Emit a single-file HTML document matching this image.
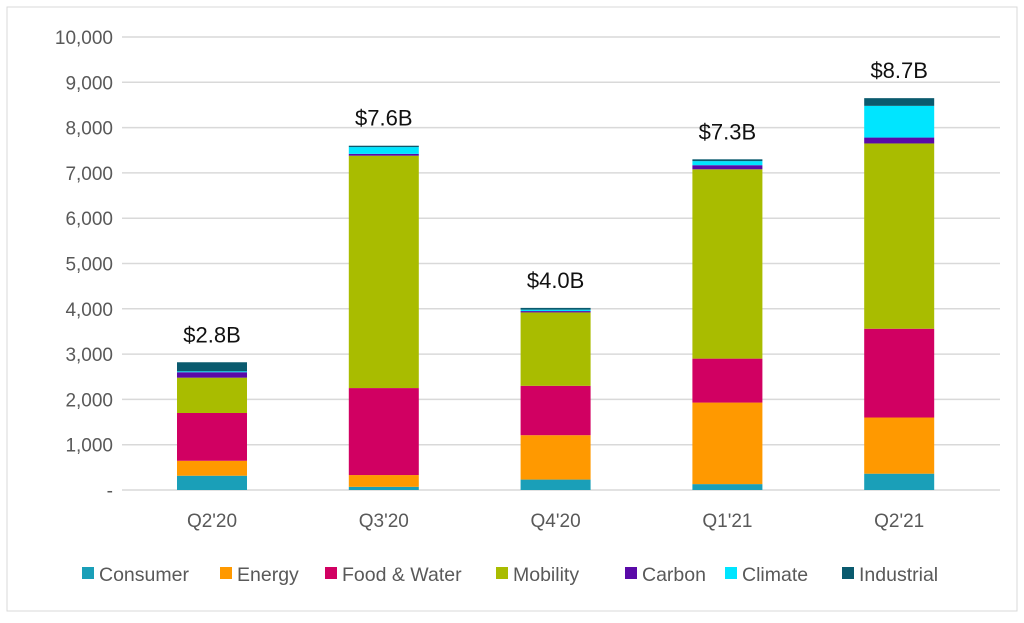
<!DOCTYPE html>
<html><head><meta charset="utf-8"><style>
body{margin:0;background:#fff;font-family:"Liberation Sans",sans-serif}
</style></head><body>
<svg width="1024" height="618">
<rect x="7" y="7" width="1010" height="604" fill="#fff" stroke="#d9d9d9"/>
<g id="grid"></g><g id="bars"></g><g id="labels"></g><g id="legend"></g>
</svg>
<script>
const categories=["Q2'20","Q3'20","Q4'20","Q1'21","Q2'21"];
const totals=["$2.8B","$7.6B","$4.0B","$7.3B","$8.7B"];
const seriesNames=["Consumer","Energy","Food & Water","Mobility","Carbon","Climate","Industrial"];
const consumer=[315,70,230,130,360];
const energy=[330,260,980,1800,1240];
const food=[1055,1920,1090,970,1960];
const mobility=[780,5130,1620,4180,4090];
const carbon=[120,40,30,90,130];
const climate=[20,150,30,90,700];
const industrial=[200,30,40,40,170];
const yTicks=[0,1000,2000,3000,4000,5000,6000,7000,8000,9000,10000];
const colors=["#1a9fb8","#ff9900","#d10062","#a9bc00","#5a0aa8","#00e5ff","#0a5a6e"];
const series=[consumer,energy,food,mobility,carbon,climate,industrial];
const ns="http://www.w3.org/2000/svg";
const y=v=>490-v*0.0453;
const x=i=>212+i*171.8;
function mk(t,a,p){const e=document.createElementNS(ns,t);for(const k in a)e.setAttribute(k,a[k]);p.appendChild(e);return e;}
const g=document.getElementById('grid');
yTicks.forEach(v=>{
 const l=mk('line',{x1:122,x2:1000,y1:y(v),y2:y(v),stroke:'#d9d9d9','stroke-width':1.5},g);
 
 
 const t=mk('text',{x:113,y:y(v)+7,'text-anchor':'end','font-size':19,fill:'#595959'},g);
 t.textContent=v===0?'-':v.toLocaleString('en-US');
 
 
});
const b=document.getElementById('bars'),lb=document.getElementById('labels');
categories.forEach((c,i)=>{
 let acc=0;
 series.forEach((s,j)=>{
  const r=mk('rect',{x:x(i)-35,width:70,y:y(acc+s[i]),height:s[i]*0.0453,fill:colors[j]},b);
  
  
  acc+=s[i];
 });
 const t=mk('text',{x:x(i),y:y(acc)-20,'text-anchor':'middle','font-size':22,fill:'#111'},lb);
 t.textContent=totals[i];
 
 
 const xl=mk('text',{x:x(i),y:527,'text-anchor':'middle','font-size':19,fill:'#595959'},lb);
 xl.textContent=c;
 
 
});
const lg=document.getElementById('legend');
const lx=[82,220,325,496,625,725,842];
seriesNames.forEach((n,j)=>{
 const r=mk('rect',{x:lx[j],y:567,width:12,height:12,fill:colors[j]},lg);
 
 
 const t=mk('text',{x:lx[j]+17,y:581,'font-size':19.5,fill:'#595959'},lg);
 t.textContent=n;
 
 
});
</script>
</body></html>
